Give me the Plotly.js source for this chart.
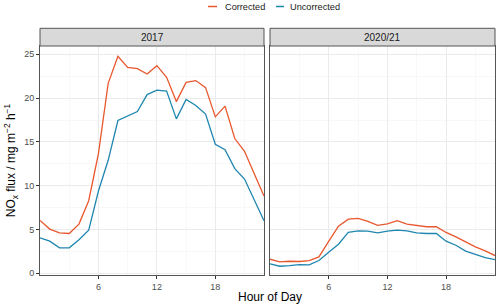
<!DOCTYPE html>
<html>
<head>
<meta charset="utf-8">
<script src="https://cdn.plot.ly/plotly-3.0.1.min.js"></script>
<style>html,body{margin:0;padding:0;background:#fff;}#chart{width:500px;height:306px;}</style>
</head>
<body>
<div id="chart"></div>
<script>
const hours = [0,1,2,3,4,5,6,7,8,9,10,11,12,13,14,15,16,17,18,19,20,21,22,23];
const panels = ["2017", "2020/21"];
const corrected2017 = [6.03,5.04,4.62,4.54,5.61,8.28,13.66,21.68,24.77,23.5,23.36,22.75,23.7,22.37,19.6,21.8,22.0,21.2,17.86,19.08,15.38,13.93,11.37,8.82];
const uncorrected2017 = [4.05,3.66,2.9,2.9,3.82,4.92,9.39,12.9,17.44,18.0,18.47,20.4,20.9,20.8,17.63,19.85,19.16,18.17,14.73,14.12,11.95,10.76,8.32,5.99];
const corrected2021 = [1.6,1.3,1.37,1.34,1.45,1.87,3.63,5.38,6.18,6.26,5.92,5.46,5.65,6.0,5.61,5.46,5.31,5.31,4.66,4.16,3.55,3.02,2.56,2.02];
const uncorrected2021 = [1.07,0.8,0.88,0.99,0.95,1.45,2.4,3.32,4.66,4.85,4.81,4.62,4.81,4.92,4.85,4.62,4.54,4.54,3.66,3.2,2.52,2.18,1.79,1.56];
const seriesNames = ["Corrected", "Uncorrected"];
const xTicks = [6,12,18];
const yTicks = [0,5,10,15,20,25];

const colCorr = "#E8572E";
const colUnc = "#1F86B0";
const colors = [colCorr, colUnc];
const font = "Liberation Sans, Arial, sans-serif";

const traces = [
  {x: hours, y: corrected2017, name: seriesNames[0], type: "scatter", mode: "lines", line: {color: colCorr, width: 1.3}, xaxis: "x", yaxis: "y", showlegend: false},
  {x: hours, y: uncorrected2017, name: seriesNames[1], type: "scatter", mode: "lines", line: {color: colUnc, width: 1.3}, xaxis: "x", yaxis: "y", showlegend: false},
  {x: hours, y: corrected2021, name: seriesNames[0], type: "scatter", mode: "lines", line: {color: colCorr, width: 1.3}, xaxis: "x2", yaxis: "y2", showlegend: false},
  {x: hours, y: uncorrected2021, name: seriesNames[1], type: "scatter", mode: "lines", line: {color: colUnc, width: 1.3}, xaxis: "x2", yaxis: "y2", showlegend: false}
];

const plotW = 455, plotH = 229, mL = 40, mT = 46;
const px = p => (p - mL) / plotW;
const py = p => 1 + (mT - p) / plotH;
const d1 = [0, 224/plotW];
const d2 = [230/plotW, 1];
const stripTop = 1 + 17.7/plotH;

function xax(domain, anchor) {
  return {
    domain: domain, anchor: anchor, range: [0, 23],
    tickvals: xTicks, ticks: "outside", ticklen: 3, tickcolor: "#333333", tickwidth: 1,
    tickfont: {size: 9, color: "#4D4D4D", family: font},
    showgrid: true, gridcolor: "#EBEBEB", gridwidth: 1,
    minor: {tickvals: [3,9,15,21], showgrid: true, gridcolor: "#F4F4F4", gridwidth: 0.6, ticks: ""},
    showline: true, mirror: true, linecolor: "#555555", linewidth: 1, zeroline: false, fixedrange: true
  };
}
function yax(anchor, labels) {
  return {
    anchor: anchor, range: [-0.2, 25.95], domain: [0, 1],
    tickvals: yTicks, ticks: labels ? "outside" : "", ticklen: 3, tickcolor: "#333333", tickwidth: 1,
    showticklabels: labels,
    tickfont: {size: 9, color: "#4D4D4D", family: font},
    showgrid: true, gridcolor: "#EBEBEB", gridwidth: 1,
    minor: {tickvals: [2.5,7.5,12.5,17.5,22.5], showgrid: true, gridcolor: "#F4F4F4", gridwidth: 0.6, ticks: ""},
    showline: true, mirror: true, linecolor: "#555555", linewidth: 1, zeroline: false, fixedrange: true
  };
}

const shapes = [d1, d2].map(d => ({
  type: "rect", xref: "paper", yref: "paper", x0: d[0], x1: d[1], y0: 1, y1: stripTop,
  fillcolor: "#D9D9D9", line: {color: "#555555", width: 1}
}));
const annotations = [d1, d2].map((d, i) => ({
  xref: "paper", yref: "paper", x: (d[0] + d[1]) / 2, y: (1 + stripTop) / 2,
  text: panels[i], showarrow: false, xanchor: "center", yanchor: "middle",
  font: {size: 10, color: "#1A1A1A", family: font}
}));

// legend (drawn manually to match the compact key)
const legendKeys = [[208, 217, 223], [276, 284, 288]];
const legendY = 6.5;
legendKeys.forEach((k, i) => {
  shapes.push({type: "line", xref: "paper", yref: "paper", x0: px(k[0]), x1: px(k[1]), y0: py(legendY), y1: py(legendY),
    line: {color: colors[i], width: 1.5}});
  annotations.push({xref: "paper", yref: "paper", x: px(k[2]), y: py(legendY), text: seriesNames[i], showarrow: false,
    xanchor: "left", yanchor: "middle", font: {size: 9.2, color: "#1A1A1A", family: font}});
});

const layout = {
  width: 500, height: 306,
  margin: {l: mL, r: 5, t: mT, b: 31},
  paper_bgcolor: "#ffffff", plot_bgcolor: "#ffffff",
  font: {family: font},
  showlegend: false,
  xaxis: xax(d1, "y"),
  xaxis2: xax(d2, "y2"),
  yaxis: Object.assign(yax("x", true), {title: {text: "NO<sub>x</sub> flux / mg m<sup>−2</sup> h<sup>−1</sup>", font: {size: 12, color: "#000", family: font}, standoff: 5}}),
  yaxis2: yax("x2", false),
  shapes: shapes,
  annotations: annotations.concat([{
    xref: "paper", yref: "paper", x: 0.505, y: 0, yshift: -22, text: "Hour of Day", showarrow: false,
    xanchor: "center", yanchor: "middle", font: {size: 12, color: "#000", family: font}
  }])
};

Plotly.newPlot("chart", traces, layout, {displayModeBar: false, staticPlot: true});
</script>
</body>
</html>
